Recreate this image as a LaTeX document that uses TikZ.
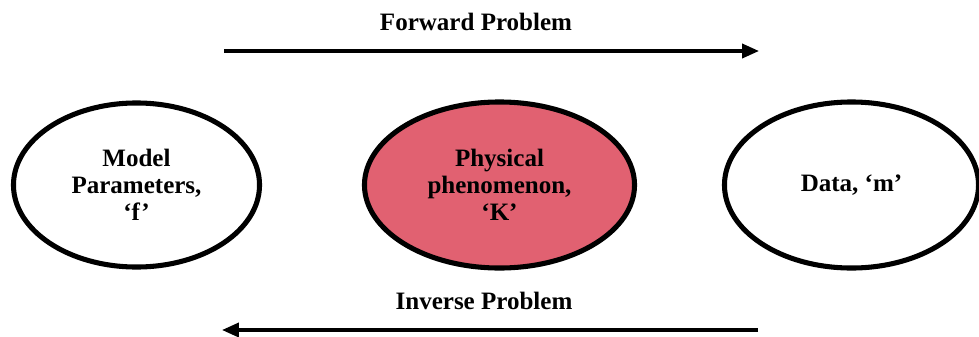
\documentclass[tikz,border=0pt]{standalone}
\usepackage{fontspec}
\setmainfont{Liberation Serif}
\usetikzlibrary{shapes.geometric,arrows.meta}

\definecolor{phenred}{RGB}{225,97,113}

\begin{document}
\begin{tikzpicture}[x=0.025cm,y=-0.025cm,
    every node/.style={font=\bfseries\fontsize{17.8}{19}\selectfont, align=center},
    blob/.style={ellipse, draw=black, line width=3.6pt, inner sep=0pt},
    bigarrow/.style={line width=2.4pt, -{Triangle[length=12pt,width=10pt]}}]

\useasboundingbox (0,0) rectangle (979,336);

% ==== 三个椭圆 ====
\node[blob, minimum width=6.15cm, minimum height=4.1cm] (params) at (136.5,185)
      {Model\\Parameters,\\‘f’};
\node[blob, fill=phenred, minimum width=6.75cm, minimum height=4.15cm] (phys) at (499.5,185)
      {Physical\\phenomenon,\\‘K’};
\node[blob, minimum width=6.35cm, minimum height=4.15cm] (data) at (851.5,185)
      {Data, ‘m’};

% ==== 上方：正问题 ====
\coordinate (fwdA) at (224,51);
\coordinate (fwdB) at (759,51);
\draw[bigarrow] (fwdA) -- (fwdB);
\node (fwdlabel) at (476,22) {Forward Problem};

% ==== 下方：反问题 ====
\coordinate (invA) at (758,330);
\coordinate (invB) at (222,330);
\draw[bigarrow] (invA) -- (invB);
\node (invlabel) at (484,301) {Inverse Problem};

\end{tikzpicture}
\end{document}
